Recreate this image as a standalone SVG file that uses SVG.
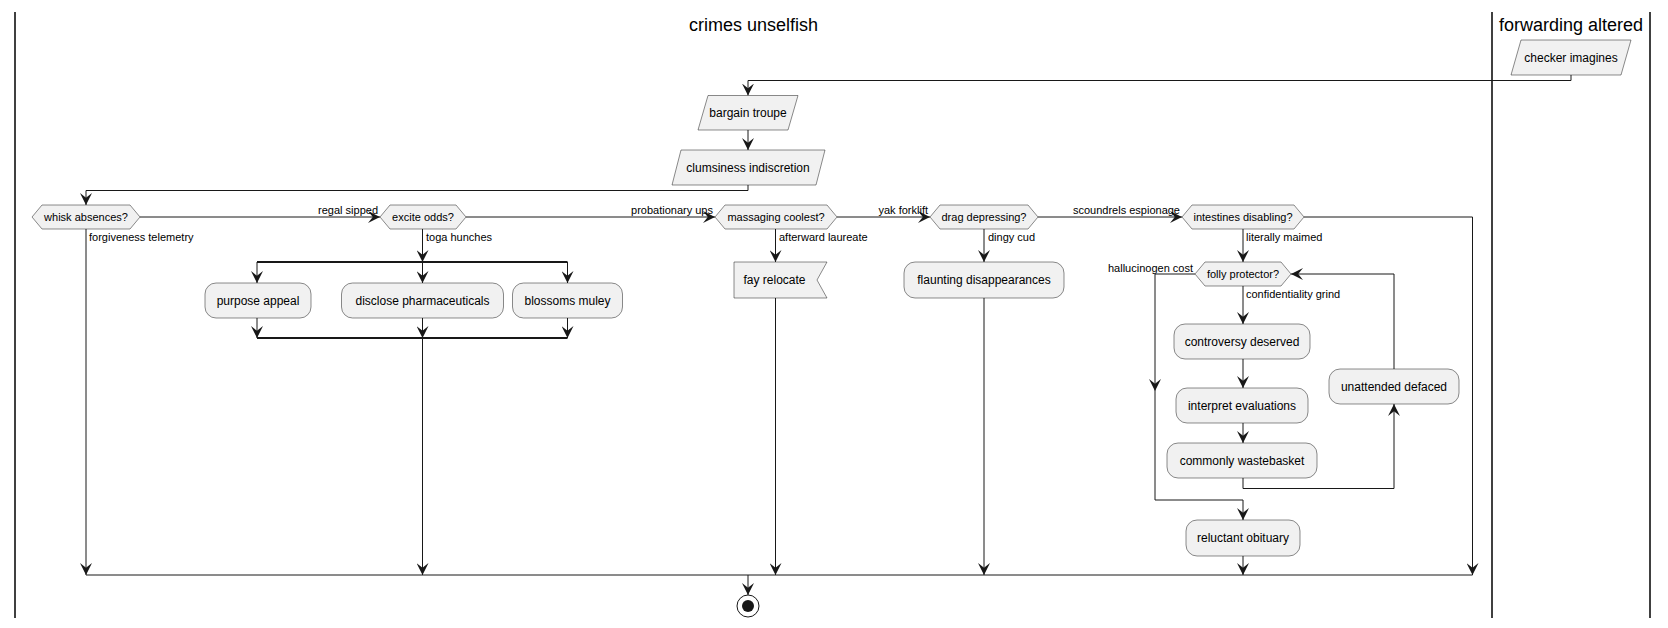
<svg xmlns="http://www.w3.org/2000/svg" width="1668" height="628" viewBox="0 0 1668 628">
<defs>
<style>
.lane{stroke:#000;stroke-width:1.5;fill:none}
.ttl{font-family:"Liberation Sans",Arial,sans-serif;font-size:18px;fill:#000;text-anchor:middle}
.n{fill:#F1F1F1;stroke:#181818;stroke-width:0.5}
.t{font-family:"Liberation Sans",Arial,sans-serif;font-size:12px;fill:#000;text-anchor:middle}
.dt{font-family:"Liberation Sans",Arial,sans-serif;font-size:11px;fill:#000;text-anchor:middle}
.lb{font-family:"Liberation Sans",Arial,sans-serif;font-size:11px;fill:#000}
.lbr{font-family:"Liberation Sans",Arial,sans-serif;font-size:11px;fill:#000;text-anchor:end}
.c{stroke:#181818;stroke-width:1;fill:none}
.bar{stroke:#181818;stroke-width:2;fill:none}
</style>
<marker id="ar" markerUnits="userSpaceOnUse" markerWidth="12" markerHeight="12" viewBox="0 0 10 10" refX="10" refY="5" orient="auto">
<path d="M0,0 L10,5 L0,10 L4,5 Z" fill="#181818"/>
</marker>
</defs>
<rect width="1668" height="628" fill="#fff"/>
<g id="lanes">
<line class="lane" x1="15" y1="12" x2="15" y2="618"/>
<line class="lane" x1="1492" y1="12" x2="1492" y2="618"/>
<line class="lane" x1="1650" y1="12" x2="1650" y2="618"/>
<text class="ttl" x="753.5" y="31">crimes unselfish</text>
<text class="ttl" x="1571" y="31">forwarding altered</text>
</g>
<g id="connectors">
<path class="c" d="M1571,75 V80.5 H748 V95.5" marker-end="url(#ar)"/>
<path class="c" d="M748,130 V150" marker-end="url(#ar)"/>
<path class="c" d="M748,185 V190.5 H86 V205" marker-end="url(#ar)"/>
<path class="c" d="M140,217 H380" marker-end="url(#ar)"/>
<path class="c" d="M466,217 H715" marker-end="url(#ar)"/>
<path class="c" d="M837,217 H930" marker-end="url(#ar)"/>
<path class="c" d="M1038,217 H1182" marker-end="url(#ar)"/>
<path class="c" d="M1304,217 H1472.5 V575" marker-end="url(#ar)"/>
<path class="c" d="M86,229 V575" marker-end="url(#ar)"/>
<path class="c" d="M422.5,229 V262" marker-end="url(#ar)"/>
<path class="bar" d="M257,262 H567.5"/>
<path class="c" d="M257,262 V283" marker-end="url(#ar)"/>
<path class="c" d="M422.5,262 V283" marker-end="url(#ar)"/>
<path class="c" d="M567.5,262 V283" marker-end="url(#ar)"/>
<path class="c" d="M257,318 V338" marker-end="url(#ar)"/>
<path class="c" d="M422.5,318 V338" marker-end="url(#ar)"/>
<path class="c" d="M567.5,318 V338" marker-end="url(#ar)"/>
<path class="bar" d="M257,338 H567.5"/>
<path class="c" d="M422.5,338 V575" marker-end="url(#ar)"/>
<path class="c" d="M775.5,229 V262" marker-end="url(#ar)"/>
<path class="c" d="M775.5,298 V575" marker-end="url(#ar)"/>
<path class="c" d="M984,229 V262" marker-end="url(#ar)"/>
<path class="c" d="M984,298 V575" marker-end="url(#ar)"/>
<path class="c" d="M1243,229 V262" marker-end="url(#ar)"/>
<path class="c" d="M1195,274 H1155 V391" marker-end="url(#ar)"/>
<path class="c" d="M1155,391 V500 H1243 V520" marker-end="url(#ar)"/>
<path class="c" d="M1243,286 V324" marker-end="url(#ar)"/>
<path class="c" d="M1243,359 V388" marker-end="url(#ar)"/>
<path class="c" d="M1243,423 V443" marker-end="url(#ar)"/>
<path class="c" d="M1243,478 V488.5 H1394 V404" marker-end="url(#ar)"/>
<path class="c" d="M1394,369 V274 H1291" marker-end="url(#ar)"/>
<path class="c" d="M1243,556 V575" marker-end="url(#ar)"/>
<path class="c" d="M86,575 H1472.5"/>
<path class="c" d="M748,575 V595" marker-end="url(#ar)"/>
<text class="lbr" x="378" y="214">regal sipped</text>
<text class="lbr" x="713" y="214">probationary ups</text>
<text class="lbr" x="928" y="214">yak forklift</text>
<text class="lbr" x="1180" y="214">scoundrels espionage</text>
<text class="lb" x="89" y="241">forgiveness telemetry</text>
<text class="lb" x="426" y="241">toga hunches</text>
<text class="lb" x="779" y="241">afterward laureate</text>
<text class="lb" x="988" y="241">dingy cud</text>
<text class="lb" x="1246" y="241">literally maimed</text>
<text class="lbr" x="1193" y="272">hallucinogen cost</text>
<text class="lb" x="1246" y="298">confidentiality grind</text>
</g>
<g id="checker"><polygon class="n" points="1521,40 1631,40 1621,75 1511,75"/><text class="t" x="1571" y="62">checker imagines</text></g>
<g id="bargain"><polygon class="n" points="708,95.5 798,95.5 788,130 698,130"/><text class="t" x="748" y="117">bargain troupe</text></g>
<g id="clumsiness"><polygon class="n" points="681,150 825,150 816,185 672,185"/><text class="t" x="748" y="172">clumsiness indiscretion</text></g>
<g id="whisk"><polygon class="n" points="32,217 42,205 130,205 140,217 130,229 42,229"/><text class="dt" x="86" y="221">whisk absences?</text></g>
<g id="excite"><polygon class="n" points="380,217 390,205 456,205 466,217 456,229 390,229"/><text class="dt" x="423" y="221">excite odds?</text></g>
<g id="massaging"><polygon class="n" points="715,217 725,205 827,205 837,217 827,229 725,229"/><text class="dt" x="776" y="221">massaging coolest?</text></g>
<g id="drag"><polygon class="n" points="930,217 940,205 1028,205 1038,217 1028,229 940,229"/><text class="dt" x="984" y="221">drag depressing?</text></g>
<g id="intestines"><polygon class="n" points="1182,217 1192,205 1294,205 1304,217 1294,229 1192,229"/><text class="dt" x="1243" y="221">intestines disabling?</text></g>
<g id="purpose"><rect class="n" x="205" y="283" width="106" height="35" rx="11"/><text class="t" x="258" y="305">purpose appeal</text></g>
<g id="disclose"><rect class="n" x="341.5" y="283" width="162" height="35" rx="11"/><text class="t" x="422.5" y="305">disclose pharmaceuticals</text></g>
<g id="blossoms"><rect class="n" x="512.5" y="283" width="110" height="35" rx="11"/><text class="t" x="567.5" y="305">blossoms muley</text></g>
<g id="fay"><polygon class="n" points="734,262 827,262 817,280 827,298 734,298"/><text class="t" x="774.5" y="284">fay relocate</text></g>
<g id="flaunting"><rect class="n" x="904" y="262" width="160" height="36" rx="11"/><text class="t" x="984" y="284">flaunting disappearances</text></g>
<g id="folly"><polygon class="n" points="1195,274 1205,262 1281,262 1291,274 1281,286 1205,286"/><text class="dt" x="1243" y="278">folly protector?</text></g>
<g id="controversy"><rect class="n" x="1174" y="324" width="136" height="35" rx="11"/><text class="t" x="1242" y="346">controversy deserved</text></g>
<g id="interpret"><rect class="n" x="1176" y="388" width="132" height="35" rx="11"/><text class="t" x="1242" y="410">interpret evaluations</text></g>
<g id="commonly"><rect class="n" x="1167" y="443" width="150" height="35" rx="11"/><text class="t" x="1242" y="465">commonly wastebasket</text></g>
<g id="unattended"><rect class="n" x="1329" y="369" width="130" height="35" rx="11"/><text class="t" x="1394" y="391">unattended defaced</text></g>
<g id="reluctant"><rect class="n" x="1186" y="520" width="114" height="36" rx="11"/><text class="t" x="1243" y="542">reluctant obituary</text></g>
<g id="stop"><circle cx="748" cy="606" r="11" fill="none" stroke="#181818" stroke-width="1"/><circle cx="748" cy="606" r="6" fill="#181818"/></g>
</svg>
